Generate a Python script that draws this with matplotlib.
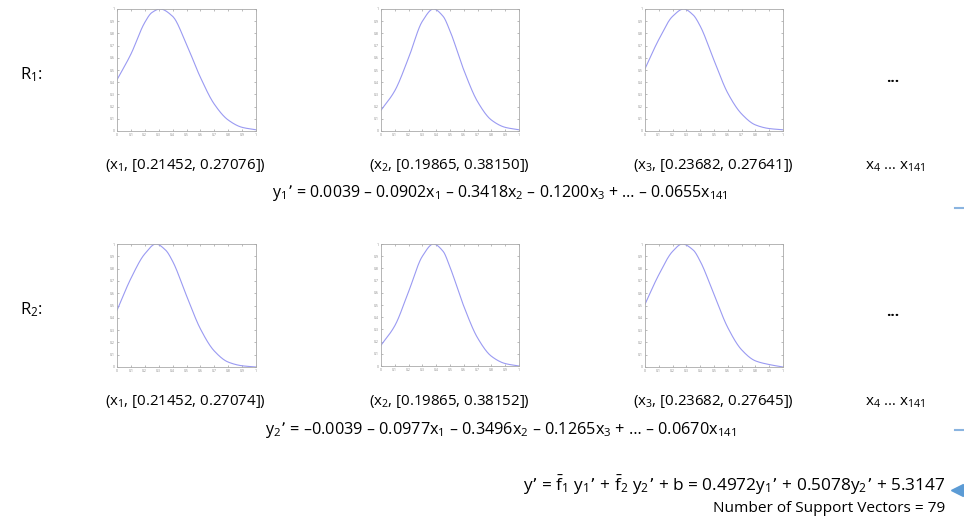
import matplotlib
matplotlib.use('Agg')
import matplotlib.pyplot as plt
import numpy as np

plt.rcParams['font.family'] = ['Open Sans', 'DejaVu Sans']
plt.rcParams['mathtext.default'] = 'regular'

# membership curves (x from 0 to 1)
xs_r1x1 = [0, 0.1, 0.2, 0.25, 0.31, 0.4, 0.5, 0.6, 0.7, 0.8, 0.9, 1.0]
ys_r1x1 = [0.42, 0.63, 0.89, 0.97, 1.0, 0.94, 0.71, 0.44, 0.22, 0.09, 0.03, 0.01]
xs_r1x2 = [0, 0.1, 0.2, 0.3, 0.38, 0.45, 0.5, 0.6, 0.7, 0.8, 0.9, 1.0]
ys_r1x2 = [0.17, 0.33, 0.60, 0.90, 1.0, 0.94, 0.82, 0.50, 0.24, 0.09, 0.03, 0.01]
xs_r1x3 = [0, 0.1, 0.2, 0.28, 0.35, 0.4, 0.5, 0.6, 0.7, 0.8, 0.9, 1.0]
ys_r1x3 = [0.51, 0.75, 0.94, 1.0, 0.95, 0.86, 0.58, 0.31, 0.14, 0.05, 0.02, 0.01]

xs_r2x1 = [0, 0.1, 0.2, 0.28, 0.35, 0.4, 0.5, 0.6, 0.7, 0.8, 0.9, 1.0]
ys_r2x1 = [0.46, 0.72, 0.92, 1.0, 0.95, 0.86, 0.58, 0.31, 0.13, 0.04, 0.01, 0.0]
xs_r2x2 = [0, 0.1, 0.2, 0.3, 0.38, 0.45, 0.5, 0.6, 0.7, 0.8, 0.9, 1.0]
ys_r2x2 = [0.17, 0.33, 0.61, 0.90, 1.0, 0.94, 0.81, 0.49, 0.23, 0.08, 0.02, 0.0]
xs_r2x3 = [0, 0.1, 0.2, 0.27, 0.35, 0.4, 0.5, 0.6, 0.7, 0.8, 0.9, 1.0]
ys_r2x3 = [0.51, 0.75, 0.94, 1.0, 0.95, 0.86, 0.59, 0.32, 0.14, 0.05, 0.02, 0.0]

curves = [(xs_r1x1, ys_r1x1), (xs_r1x2, ys_r1x2), (xs_r1x3, ys_r1x3),
          (xs_r2x1, ys_r2x1), (xs_r2x2, ys_r2x2), (xs_r2x3, ys_r2x3)]

row1_labels = [r'(x$_1$, [0.21452, 0.27076])', r'(x$_2$, [0.19865, 0.38150])',
               r'(x$_3$, [0.23682, 0.27641])']
row2_labels = [r'(x$_1$, [0.21452, 0.27074])', r'(x$_2$, [0.19865, 0.38152])',
               r'(x$_3$, [0.23682, 0.27645])']
eq1 = (r"y$_1$’ = 0.0039 – 0.0902x$_1$ – 0.3418x$_2$ – 0.1200x$_3$ + … – 0.0655x$_{141}$")
eq2 = (r"y$_2$’ = –0.0039 – 0.0977x$_1$ – 0.3496x$_2$ – 0.1265x$_3$ + … – 0.0670x$_{141}$")
eq_final = (r"y’ = $\bar{f}_1$ y$_1$’ + $\bar{f}_2$ y$_2$’ + b = 0.4972y$_1$’ + 0.5078y$_2$’ + 5.3147")
n_sv = 79

W, H = 964, 520
fig = plt.figure(figsize=(W / 100, H / 100), dpi=100)


def px(x, y):
    return x / W, 1 - y / H


def pchip(x, y, xn):
    # monotone cubic through the read points, keeps the peaks smooth
    x = np.asarray(x, float)
    y = np.asarray(y, float)
    h = np.diff(x)
    d = np.diff(y) / h
    m = np.zeros_like(y)
    for k in range(1, len(x) - 1):
        if d[k - 1] * d[k] > 0:
            w1 = 2 * h[k] + h[k - 1]
            w2 = h[k] + 2 * h[k - 1]
            m[k] = (w1 + w2) / (w1 / d[k - 1] + w2 / d[k])
    m[0] = d[0]
    m[-1] = d[-1]
    i = np.clip(np.searchsorted(x, xn) - 1, 0, len(h) - 1)
    t = (xn - x[i]) / h[i]
    h00 = 2 * t**3 - 3 * t**2 + 1
    h10 = t**3 - 2 * t**2 + t
    h01 = -2 * t**3 + 3 * t**2
    h11 = t**3 - t**2
    return h00 * y[i] + h10 * h[i] * m[i] + h01 * y[i + 1] + h11 * h[i] * m[i + 1]


# axes boxes in pixels: left, top, right, bottom
boxes = [(117, 9, 256, 131), (381, 9, 519, 131), (645, 9, 783, 131),
         (117, 244, 256, 367), (381, 244, 519, 366), (645, 244, 783, 367)]

ticklabels = ['0', '0.1', '0.2', '0.3', '0.4', '0.5', '0.6', '0.7', '0.8', '0.9', '1']
for (l, t, r, b), (cx, cy) in zip(boxes, curves):
    ax = fig.add_axes([l / W, 1 - b / H, (r - l) / W, (b - t) / H])
    xx = np.linspace(0, 1, 300)
    ax.plot(xx, pchip(cx, cy, xx), color='#9a9af2', lw=0.8)
    ax.set_xlim(0, 1)
    ax.set_ylim(0, 1)
    ax.set_xticks(np.arange(0, 1.01, 0.1))
    ax.set_yticks(np.arange(0, 1.01, 0.1))
    ax.set_xticklabels(ticklabels)
    ax.set_yticklabels(ticklabels)
    ax.tick_params(direction='in', length=1.5, width=0.4, labelsize=2.5,
                   colors='#888888', top=True, right=True, pad=1.5)
    for s in ax.spines.values():
        s.set_color('#aaaaaa')
        s.set_linewidth(0.6)

fig.text(*px(20, 75), r'R$_1$:', fontsize=12, va='center', ha='left')
fig.text(*px(20, 310), r'R$_2$:', fontsize=12, va='center', ha='left')
fig.text(*px(893, 78), '...', fontsize=11, va='center', ha='center', fontweight='bold')
fig.text(*px(893, 312), '...', fontsize=11, va='center', ha='center', fontweight='bold')

centers = [185, 449, 713]
for c, lab in zip(centers, row1_labels):
    fig.text(*px(c, 165), lab, fontsize=10.8, ha='center', va='center')
for c, lab in zip(centers, row2_labels):
    fig.text(*px(c, 402), lab, fontsize=10.8, ha='center', va='center')
fig.text(*px(895, 166), r'x$_4$ … x$_{141}$', fontsize=11, ha='center', va='center')
fig.text(*px(895, 403), r'x$_4$ … x$_{141}$', fontsize=11, ha='center', va='center')

fig.text(*px(500, 193), eq1, fontsize=11.5, ha='center', va='center')
fig.text(*px(501, 430), eq2, fontsize=11.7, ha='center', va='center')

fig.text(*px(945, 485), eq_final, fontsize=12.4, ha='right', va='center')
fig.text(*px(945, 508), 'Number of Support Vectors = %d' % n_sv, fontsize=11.1,
         ha='right', va='center')

# small blue markers at right edge
fig.add_artist(plt.Line2D([955 / W, 963 / W], [1 - 208 / H, 1 - 208 / H],
                          color='#8ab4e0', lw=1.5))
fig.add_artist(plt.Line2D([955 / W, 963 / W], [1 - 430 / H, 1 - 430 / H],
                          color='#8ab4e0', lw=1.5))
fig.add_artist(plt.Line2D([957 / W], [1 - 490 / H], marker='<', color='#5b9bd5',
                          markersize=8, linestyle='none'))

fig.savefig('out.png', dpi=100)
